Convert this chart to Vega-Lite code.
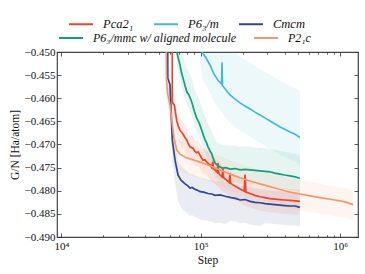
{
"$schema": "https://vega.github.io/schema/vega-lite/v6.json",
"width": 301, "height": 185,
"autosize": {"type": "none"},
"padding": {"left": 57, "top": 52, "right": 7, "bottom": 37},
"background": "white",
"config": {
  "font": "Liberation Serif",
  "view": {"stroke": "#444", "strokeWidth": 1.2},
  "axis": {"grid": false, "domain": false, "tickColor": "#333", "tickWidth": 0.8, "labelFont": "Liberation Serif", "labelFontSize": 11, "labelColor": "#111", "titleFont": "Liberation Serif", "titleFontSize": 11.5, "titleFontWeight": "normal", "titleColor": "#111"},
  "legend": {"labelFont": "Liberation Serif", "labelFontSize": 12.5, "labelColor": "#111"}
},
"resolve": {"axis": {"x": "independent", "y": "independent"}},
"datasets": {"d": [
{"series":"Cmcm","step":57970,"value":-0.4450,"hi":-0.4420,"lo":-0.4495},
{"series":"Cmcm","step":57970,"value":-0.4556,"hi":-0.4526,"lo":-0.4601},
{"series":"Cmcm","step":60200,"value":-0.4571,"hi":-0.4541,"lo":-0.4616},
{"series":"Cmcm","step":61200,"value":-0.4625,"hi":-0.4595,"lo":-0.4670},
{"series":"Cmcm","step":62500,"value":-0.4690,"hi":-0.4660,"lo":-0.4735},
{"series":"Cmcm","step":65400,"value":-0.4734,"hi":-0.4704,"lo":-0.4784},
{"series":"Cmcm","step":68700,"value":-0.4766,"hi":-0.4736,"lo":-0.4821},
{"series":"Cmcm","step":72200,"value":-0.4777,"hi":-0.4747,"lo":-0.4837},
{"series":"Cmcm","step":77200,"value":-0.4785,"hi":-0.4755,"lo":-0.4845},
{"series":"Cmcm","step":80500,"value":-0.4789,"hi":-0.4759,"lo":-0.4849},
{"series":"Cmcm","step":83800,"value":-0.4794,"hi":-0.4764,"lo":-0.4854},
{"series":"Cmcm","step":87000,"value":-0.4793,"hi":-0.4763,"lo":-0.4853},
{"series":"Cmcm","step":91000,"value":-0.4797,"hi":-0.4767,"lo":-0.4857},
{"series":"Cmcm","step":95000,"value":-0.4799,"hi":-0.4769,"lo":-0.4859},
{"series":"Cmcm","step":98800,"value":-0.4802,"hi":-0.4772,"lo":-0.4862},
{"series":"Cmcm","step":105000,"value":-0.4803,"hi":-0.4773,"lo":-0.4863},
{"series":"Cmcm","step":112800,"value":-0.4806,"hi":-0.4776,"lo":-0.4866},
{"series":"Cmcm","step":120000,"value":-0.4807,"hi":-0.4777,"lo":-0.4867},
{"series":"Cmcm","step":126700,"value":-0.4810,"hi":-0.4780,"lo":-0.4870},
{"series":"Cmcm","step":137600,"value":-0.4809,"hi":-0.4779,"lo":-0.4869},
{"series":"Cmcm","step":149400,"value":-0.4812,"hi":-0.4782,"lo":-0.4872},
{"series":"Cmcm","step":165000,"value":-0.4815,"hi":-0.4785,"lo":-0.4865},
{"series":"Cmcm","step":180000,"value":-0.4817,"hi":-0.4787,"lo":-0.4867},
{"series":"Cmcm","step":191500,"value":-0.4820,"hi":-0.4790,"lo":-0.4870},
{"series":"Cmcm","step":208000,"value":-0.4819,"hi":-0.4789,"lo":-0.4869},
{"series":"Cmcm","step":225900,"value":-0.4823,"hi":-0.4793,"lo":-0.4873},
{"series":"Cmcm","step":245000,"value":-0.4825,"hi":-0.4795,"lo":-0.4875},
{"series":"Cmcm","step":266500,"value":-0.4826,"hi":-0.4796,"lo":-0.4876},
{"series":"Cmcm","step":290000,"value":-0.4828,"hi":-0.4798,"lo":-0.4870},
{"series":"Cmcm","step":314400,"value":-0.4829,"hi":-0.4799,"lo":-0.4871},
{"series":"Cmcm","step":340000,"value":-0.4830,"hi":-0.4800,"lo":-0.4872},
{"series":"Cmcm","step":370900,"value":-0.4831,"hi":-0.4801,"lo":-0.4873},
{"series":"Cmcm","step":400000,"value":-0.4832,"hi":-0.4802,"lo":-0.4874},
{"series":"Cmcm","step":437700,"value":-0.4833,"hi":-0.4803,"lo":-0.4875},
{"series":"Cmcm","step":475000,"value":-0.4833,"hi":-0.4803,"lo":-0.4875},
{"series":"Cmcm","step":515000,"value":-0.4836,"hi":-0.4806,"lo":-0.4878},
{"series":"Pca2₁","step":62500,"value":-0.4450,"hi":-0.4425,"lo":-0.4480},
{"series":"Pca2₁","step":62500,"value":-0.4608,"hi":-0.4583,"lo":-0.4638},
{"series":"Pca2₁","step":64700,"value":-0.4615,"hi":-0.4590,"lo":-0.4645},
{"series":"Pca2₁","step":67300,"value":-0.4649,"hi":-0.4624,"lo":-0.4679},
{"series":"Pca2₁","step":69000,"value":-0.4660,"hi":-0.4635,"lo":-0.4690},
{"series":"Pca2₁","step":71000,"value":-0.4669,"hi":-0.4644,"lo":-0.4699},
{"series":"Pca2₁","step":74600,"value":-0.4677,"hi":-0.4652,"lo":-0.4707},
{"series":"Pca2₁","step":77000,"value":-0.4685,"hi":-0.4660,"lo":-0.4715},
{"series":"Pca2₁","step":79400,"value":-0.4690,"hi":-0.4665,"lo":-0.4720},
{"series":"Pca2₁","step":81000,"value":-0.4697,"hi":-0.4672,"lo":-0.4727},
{"series":"Pca2₁","step":83800,"value":-0.4705,"hi":-0.4680,"lo":-0.4735},
{"series":"Pca2₁","step":88000,"value":-0.4708,"hi":-0.4683,"lo":-0.4738},
{"series":"Pca2₁","step":91000,"value":-0.4715,"hi":-0.4690,"lo":-0.4745},
{"series":"Pca2₁","step":93600,"value":-0.4718,"hi":-0.4693,"lo":-0.4748},
{"series":"Pca2₁","step":96000,"value":-0.4716,"hi":-0.4691,"lo":-0.4746},
{"series":"Pca2₁","step":98800,"value":-0.4723,"hi":-0.4698,"lo":-0.4753},
{"series":"Pca2₁","step":101000,"value":-0.4728,"hi":-0.4703,"lo":-0.4758},
{"series":"Pca2₁","step":103900,"value":-0.4734,"hi":-0.4709,"lo":-0.4764},
{"series":"Pca2₁","step":107000,"value":-0.4733,"hi":-0.4708,"lo":-0.4763},
{"series":"Pca2₁","step":109100,"value":-0.4736,"hi":-0.4711,"lo":-0.4766},
{"series":"Pca2₁","step":113000,"value":-0.4741,"hi":-0.4716,"lo":-0.4771},
{"series":"Pca2₁","step":116600,"value":-0.4744,"hi":-0.4719,"lo":-0.4774},
{"series":"Pca2₁","step":120000,"value":-0.4750,"hi":-0.4725,"lo":-0.4780},
{"series":"Pca2₁","step":122000,"value":-0.4737,"hi":-0.4726,"lo":-0.4781},
{"series":"Pca2₁","step":123500,"value":-0.4752,"hi":-0.4727,"lo":-0.4782},
{"series":"Pca2₁","step":126700,"value":-0.4755,"hi":-0.4730,"lo":-0.4785},
{"series":"Pca2₁","step":131000,"value":-0.4760,"hi":-0.4735,"lo":-0.4790},
{"series":"Pca2₁","step":133100,"value":-0.4740,"hi":-0.4736,"lo":-0.4791},
{"series":"Pca2₁","step":134500,"value":-0.4762,"hi":-0.4737,"lo":-0.4792},
{"series":"Pca2₁","step":137600,"value":-0.4766,"hi":-0.4741,"lo":-0.4796},
{"series":"Pca2₁","step":142000,"value":-0.4770,"hi":-0.4745,"lo":-0.4800},
{"series":"Pca2₁","step":144600,"value":-0.4752,"hi":-0.4746,"lo":-0.4801},
{"series":"Pca2₁","step":146000,"value":-0.4772,"hi":-0.4747,"lo":-0.4802},
{"series":"Pca2₁","step":152000,"value":-0.4776,"hi":-0.4751,"lo":-0.4806},
{"series":"Pca2₁","step":160000,"value":-0.4782,"hi":-0.4757,"lo":-0.4812},
{"series":"Pca2₁","step":162300,"value":-0.4762,"hi":-0.4758,"lo":-0.4813},
{"series":"Pca2₁","step":164000,"value":-0.4784,"hi":-0.4759,"lo":-0.4814},
{"series":"Pca2₁","step":176300,"value":-0.4790,"hi":-0.4765,"lo":-0.4820},
{"series":"Pca2₁","step":191500,"value":-0.4796,"hi":-0.4771,"lo":-0.4826},
{"series":"Pca2₁","step":205000,"value":-0.4801,"hi":-0.4776,"lo":-0.4831},
{"series":"Pca2₁","step":208000,"value":-0.4765,"hi":-0.4777,"lo":-0.4832},
{"series":"Pca2₁","step":211000,"value":-0.4803,"hi":-0.4778,"lo":-0.4833},
{"series":"Pca2₁","step":225900,"value":-0.4806,"hi":-0.4781,"lo":-0.4836},
{"series":"Pca2₁","step":245000,"value":-0.4810,"hi":-0.4785,"lo":-0.4840},
{"series":"Pca2₁","step":266500,"value":-0.4813,"hi":-0.4788,"lo":-0.4843},
{"series":"Pca2₁","step":290000,"value":-0.4815,"hi":-0.4790,"lo":-0.4845},
{"series":"Pca2₁","step":314400,"value":-0.4817,"hi":-0.4792,"lo":-0.4847},
{"series":"Pca2₁","step":340000,"value":-0.4818,"hi":-0.4793,"lo":-0.4848},
{"series":"Pca2₁","step":370900,"value":-0.4819,"hi":-0.4794,"lo":-0.4849},
{"series":"Pca2₁","step":400000,"value":-0.4820,"hi":-0.4795,"lo":-0.4850},
{"series":"Pca2₁","step":437700,"value":-0.4821,"hi":-0.4796,"lo":-0.4851},
{"series":"Pca2₁","step":475000,"value":-0.4822,"hi":-0.4797,"lo":-0.4852},
{"series":"Pca2₁","step":515000,"value":-0.4823,"hi":-0.4798,"lo":-0.4853},
{"series":"P6₃/mmc w/ aligned molecule","step":67050,"value":-0.4450,"hi":-0.4400,"lo":-0.4480},
{"series":"P6₃/mmc w/ aligned molecule","step":67300,"value":-0.4500,"hi":-0.4450,"lo":-0.4530},
{"series":"P6₃/mmc w/ aligned molecule","step":71000,"value":-0.4528,"hi":-0.4478,"lo":-0.4558},
{"series":"P6₃/mmc w/ aligned molecule","step":72800,"value":-0.4545,"hi":-0.4495,"lo":-0.4575},
{"series":"P6₃/mmc w/ aligned molecule","step":74600,"value":-0.4556,"hi":-0.4506,"lo":-0.4586},
{"series":"P6₃/mmc w/ aligned molecule","step":77000,"value":-0.4572,"hi":-0.4522,"lo":-0.4602},
{"series":"P6₃/mmc w/ aligned molecule","step":79400,"value":-0.4586,"hi":-0.4536,"lo":-0.4616},
{"series":"P6₃/mmc w/ aligned molecule","step":82000,"value":-0.4592,"hi":-0.4542,"lo":-0.4622},
{"series":"P6₃/mmc w/ aligned molecule","step":86200,"value":-0.4608,"hi":-0.4558,"lo":-0.4638},
{"series":"P6₃/mmc w/ aligned molecule","step":90000,"value":-0.4628,"hi":-0.4578,"lo":-0.4658},
{"series":"P6₃/mmc w/ aligned molecule","step":93600,"value":-0.4643,"hi":-0.4593,"lo":-0.4673},
{"series":"P6₃/mmc w/ aligned molecule","step":97000,"value":-0.4652,"hi":-0.4602,"lo":-0.4682},
{"series":"P6₃/mmc w/ aligned molecule","step":101700,"value":-0.4669,"hi":-0.4619,"lo":-0.4699},
{"series":"P6₃/mmc w/ aligned molecule","step":104500,"value":-0.4680,"hi":-0.4630,"lo":-0.4710},
{"series":"P6₃/mmc w/ aligned molecule","step":107400,"value":-0.4690,"hi":-0.4640,"lo":-0.4720},
{"series":"P6₃/mmc w/ aligned molecule","step":110000,"value":-0.4696,"hi":-0.4646,"lo":-0.4726},
{"series":"P6₃/mmc w/ aligned molecule","step":112800,"value":-0.4705,"hi":-0.4655,"lo":-0.4735},
{"series":"P6₃/mmc w/ aligned molecule","step":116600,"value":-0.4714,"hi":-0.4664,"lo":-0.4744},
{"series":"P6₃/mmc w/ aligned molecule","step":120000,"value":-0.4720,"hi":-0.4670,"lo":-0.4750},
{"series":"P6₃/mmc w/ aligned molecule","step":122500,"value":-0.4729,"hi":-0.4679,"lo":-0.4759},
{"series":"P6₃/mmc w/ aligned molecule","step":126700,"value":-0.4740,"hi":-0.4690,"lo":-0.4770},
{"series":"P6₃/mmc w/ aligned molecule","step":133100,"value":-0.4746,"hi":-0.4696,"lo":-0.4776},
{"series":"P6₃/mmc w/ aligned molecule","step":142200,"value":-0.4751,"hi":-0.4701,"lo":-0.4781},
{"series":"P6₃/mmc w/ aligned molecule","step":152000,"value":-0.4750,"hi":-0.4700,"lo":-0.4780},
{"series":"P6₃/mmc w/ aligned molecule","step":162300,"value":-0.4753,"hi":-0.4703,"lo":-0.4783},
{"series":"P6₃/mmc w/ aligned molecule","step":176300,"value":-0.4752,"hi":-0.4702,"lo":-0.4782},
{"series":"P6₃/mmc w/ aligned molecule","step":191500,"value":-0.4755,"hi":-0.4705,"lo":-0.4785},
{"series":"P6₃/mmc w/ aligned molecule","step":208000,"value":-0.4754,"hi":-0.4704,"lo":-0.4784},
{"series":"P6₃/mmc w/ aligned molecule","step":225900,"value":-0.4755,"hi":-0.4705,"lo":-0.4785},
{"series":"P6₃/mmc w/ aligned molecule","step":245000,"value":-0.4756,"hi":-0.4706,"lo":-0.4786},
{"series":"P6₃/mmc w/ aligned molecule","step":266500,"value":-0.4757,"hi":-0.4707,"lo":-0.4787},
{"series":"P6₃/mmc w/ aligned molecule","step":290000,"value":-0.4758,"hi":-0.4708,"lo":-0.4788},
{"series":"P6₃/mmc w/ aligned molecule","step":314400,"value":-0.4759,"hi":-0.4709,"lo":-0.4789},
{"series":"P6₃/mmc w/ aligned molecule","step":340000,"value":-0.4762,"hi":-0.4712,"lo":-0.4792},
{"series":"P6₃/mmc w/ aligned molecule","step":370900,"value":-0.4764,"hi":-0.4714,"lo":-0.4794},
{"series":"P6₃/mmc w/ aligned molecule","step":400000,"value":-0.4766,"hi":-0.4716,"lo":-0.4796},
{"series":"P6₃/mmc w/ aligned molecule","step":437700,"value":-0.4768,"hi":-0.4718,"lo":-0.4798},
{"series":"P6₃/mmc w/ aligned molecule","step":475000,"value":-0.4770,"hi":-0.4720,"lo":-0.4800},
{"series":"P6₃/mmc w/ aligned molecule","step":515000,"value":-0.4773,"hi":-0.4723,"lo":-0.4803},
{"series":"P6₃/m","step":98800,"value":-0.4450,"hi":-0.4350,"lo":-0.4510},
{"series":"P6₃/m","step":102200,"value":-0.4500,"hi":-0.4400,"lo":-0.4560},
{"series":"P6₃/m","step":109100,"value":-0.4513,"hi":-0.4413,"lo":-0.4573},
{"series":"P6₃/m","step":116600,"value":-0.4528,"hi":-0.4428,"lo":-0.4588},
{"series":"P6₃/m","step":120500,"value":-0.4538,"hi":-0.4438,"lo":-0.4598},
{"series":"P6₃/m","step":124600,"value":-0.4548,"hi":-0.4448,"lo":-0.4608},
{"series":"P6₃/m","step":133100,"value":-0.4561,"hi":-0.4461,"lo":-0.4621},
{"series":"P6₃/m","step":141100,"value":-0.4569,"hi":-0.4469,"lo":-0.4629},
{"series":"P6₃/m","step":142200,"value":-0.4522,"hi":-0.4470,"lo":-0.4630},
{"series":"P6₃/m","step":143300,"value":-0.4573,"hi":-0.4473,"lo":-0.4633},
{"series":"P6₃/m","step":151900,"value":-0.4582,"hi":-0.4482,"lo":-0.4642},
{"series":"P6₃/m","step":162300,"value":-0.4593,"hi":-0.4493,"lo":-0.4653},
{"series":"P6₃/m","step":176300,"value":-0.4602,"hi":-0.4502,"lo":-0.4662},
{"series":"P6₃/m","step":191500,"value":-0.4610,"hi":-0.4510,"lo":-0.4670},
{"series":"P6₃/m","step":208000,"value":-0.4617,"hi":-0.4517,"lo":-0.4677},
{"series":"P6₃/m","step":225900,"value":-0.4623,"hi":-0.4523,"lo":-0.4683},
{"series":"P6₃/m","step":245000,"value":-0.4630,"hi":-0.4530,"lo":-0.4690},
{"series":"P6₃/m","step":266500,"value":-0.4636,"hi":-0.4536,"lo":-0.4696},
{"series":"P6₃/m","step":290000,"value":-0.4643,"hi":-0.4543,"lo":-0.4703},
{"series":"P6₃/m","step":314400,"value":-0.4649,"hi":-0.4549,"lo":-0.4709},
{"series":"P6₃/m","step":340000,"value":-0.4655,"hi":-0.4555,"lo":-0.4715},
{"series":"P6₃/m","step":370900,"value":-0.4662,"hi":-0.4562,"lo":-0.4722},
{"series":"P6₃/m","step":400000,"value":-0.4667,"hi":-0.4567,"lo":-0.4727},
{"series":"P6₃/m","step":437700,"value":-0.4673,"hi":-0.4573,"lo":-0.4733},
{"series":"P6₃/m","step":475000,"value":-0.4678,"hi":-0.4578,"lo":-0.4738},
{"series":"P6₃/m","step":515000,"value":-0.4685,"hi":-0.4585,"lo":-0.4745},
{"series":"P2₁c","step":56360,"value":-0.4450,"hi":-0.4420,"lo":-0.4485},
{"series":"P2₁c","step":56830,"value":-0.4561,"hi":-0.4531,"lo":-0.4596},
{"series":"P2₁c","step":57780,"value":-0.4589,"hi":-0.4559,"lo":-0.4624},
{"series":"P2₁c","step":60200,"value":-0.4615,"hi":-0.4585,"lo":-0.4650},
{"series":"P2₁c","step":62200,"value":-0.4651,"hi":-0.4621,"lo":-0.4686},
{"series":"P2₁c","step":64300,"value":-0.4686,"hi":-0.4656,"lo":-0.4721},
{"series":"P2₁c","step":67300,"value":-0.4712,"hi":-0.4682,"lo":-0.4747},
{"series":"P2₁c","step":71000,"value":-0.4721,"hi":-0.4691,"lo":-0.4756},
{"series":"P2₁c","step":79400,"value":-0.4729,"hi":-0.4699,"lo":-0.4764},
{"series":"P2₁c","step":88000,"value":-0.4733,"hi":-0.4703,"lo":-0.4768},
{"series":"P2₁c","step":98800,"value":-0.4738,"hi":-0.4708,"lo":-0.4773},
{"series":"P2₁c","step":116600,"value":-0.4746,"hi":-0.4716,"lo":-0.4781},
{"series":"P2₁c","step":137600,"value":-0.4755,"hi":-0.4725,"lo":-0.4790},
{"series":"P2₁c","step":162300,"value":-0.4764,"hi":-0.4734,"lo":-0.4799},
{"series":"P2₁c","step":191500,"value":-0.4772,"hi":-0.4742,"lo":-0.4807},
{"series":"P2₁c","step":225900,"value":-0.4779,"hi":-0.4749,"lo":-0.4814},
{"series":"P2₁c","step":266500,"value":-0.4785,"hi":-0.4755,"lo":-0.4820},
{"series":"P2₁c","step":314400,"value":-0.4791,"hi":-0.4761,"lo":-0.4826},
{"series":"P2₁c","step":341500,"value":-0.4794,"hi":-0.4764,"lo":-0.4829},
{"series":"P2₁c","step":400000,"value":-0.4800,"hi":-0.4770,"lo":-0.4835},
{"series":"P2₁c","step":437700,"value":-0.4803,"hi":-0.4773,"lo":-0.4838},
{"series":"P2₁c","step":515000,"value":-0.4807,"hi":-0.4777,"lo":-0.4842},
{"series":"P2₁c","step":609000,"value":-0.4811,"hi":-0.4781,"lo":-0.4846},
{"series":"P2₁c","step":755000,"value":-0.4816,"hi":-0.4786,"lo":-0.4851},
{"series":"P2₁c","step":921000,"value":-0.4820,"hi":-0.4790,"lo":-0.4855},
{"series":"P2₁c","step":1086000,"value":-0.4824,"hi":-0.4794,"lo":-0.4859},
{"series":"P2₁c","step":1240000,"value":-0.4830,"hi":-0.4800,"lo":-0.4865}
]},
"data": {"name": "d"},
"layer": [
  {
    "transform": [{"filter": {"field": "series", "oneOf": ["Pca2₁", "P6₃/m", "Cmcm"]}}],
    "mark": {"type": "area", "opacity": 0.1, "clip": true},
    "encoding": {
      "x": {"field": "step", "type": "quantitative", "scale": {"type": "log", "domain": [9300, 1345000], "nice": false},
        "axis": {"orient": "bottom", "values": [10000, 100000, 1000000], "labelExpr": "datum.value == 10000 ? '10⁴' : datum.value == 100000 ? '10⁵' : '10⁶'", "tickSize": -4, "labelPadding": 7, "title": "Step", "titlePadding": 3}},
      "y": {"field": "lo", "type": "quantitative", "scale": {"domain": [-0.49, -0.45], "nice": false, "zero": false},
        "axis": {"orient": "left", "values": [-0.49, -0.485, -0.48, -0.475, -0.47, -0.465, -0.46, -0.455, -0.45], "labelExpr": "replace(format(datum.value, '.3f'), '-', '−')", "tickSize": -4, "labelPadding": 6, "title": "G/N [Ha/atom]", "titlePadding": 4}},
      "y2": {"field": "hi"},
      "fill": {"field": "series", "type": "nominal", "legend": null,
        "scale": {"domain": ["Pca2₁", "P6₃/m", "Cmcm", "P6₃/mmc w/ aligned molecule", "P2₁c"], "range": ["#e8452c", "#4ab6d6", "#33458f", "#11a07c", "#f5966f"]}}
    }
  },
  {
    "transform": [{"filter": {"field": "series", "oneOf": ["P6₃/mmc w/ aligned molecule", "P2₁c"]}}],
    "mark": {"type": "area", "opacity": 0.1, "clip": true},
    "encoding": {
      "x": {"field": "step", "type": "quantitative",
        "axis": {"orient": "bottom", "values": [20000, 30000, 40000, 50000, 60000, 70000, 80000, 90000, 200000, 300000, 400000, 500000, 600000, 700000, 800000, 900000], "labels": false, "tickSize": -2.2, "title": null}},
      "y": {"field": "lo", "type": "quantitative",
        "axis": {"orient": "right", "values": [-0.49, -0.485, -0.48, -0.475, -0.47, -0.465, -0.46, -0.455, -0.45], "labels": false, "tickSize": -4, "title": null}},
      "y2": {"field": "hi"},
      "fill": {"field": "series", "type": "nominal", "legend": null}
    }
  },
  {
    "transform": [{"filter": {"field": "series", "oneOf": ["Pca2₁", "P6₃/m", "Cmcm"]}}],
    "mark": {"type": "line", "strokeWidth": 1.7, "clip": true},
    "encoding": {
      "x": {"field": "step", "type": "quantitative",
        "axis": {"orient": "top", "values": [10000, 100000, 1000000], "labels": false, "tickSize": -4, "title": null}},
      "y": {"field": "value", "type": "quantitative", "axis": null},
      "color": {"field": "series", "type": "nominal",
        "scale": {"domain": ["Pca2₁", "P6₃/m", "Cmcm"], "range": ["#e8452c", "#4ab6d6", "#33458f"]},
        "legend": {"orient": "none", "legendX": 11, "legendY": -41, "direction": "horizontal", "title": null, "symbolType": "stroke", "symbolSize": 576, "symbolStrokeWidth": 2, "labelFontStyle": "italic", "columnPadding": 16, "labelOffset": 9}}
    }
  },
  {
    "transform": [{"filter": {"field": "series", "oneOf": ["P6₃/mmc w/ aligned molecule", "P2₁c"]}}],
    "mark": {"type": "line", "strokeWidth": 1.7, "clip": true},
    "encoding": {
      "x": {"field": "step", "type": "quantitative",
        "axis": {"orient": "top", "values": [20000, 30000, 40000, 50000, 60000, 70000, 80000, 90000, 200000, 300000, 400000, 500000, 600000, 700000, 800000, 900000], "labels": false, "tickSize": -2.2, "title": null}},
      "y": {"field": "value", "type": "quantitative", "axis": null},
      "stroke": {"field": "series", "type": "nominal",
        "scale": {"domain": ["P6₃/mmc w/ aligned molecule", "P2₁c"], "range": ["#11a07c", "#f5966f"]},
        "legend": {"orient": "none", "legendX": 1, "legendY": -27, "direction": "horizontal", "title": null, "symbolType": "stroke", "symbolSize": 576, "symbolStrokeWidth": 2, "labelFontStyle": "italic", "labelFontSize": 12, "columnPadding": 13, "labelOffset": 9}}
    }
  }
]
}
